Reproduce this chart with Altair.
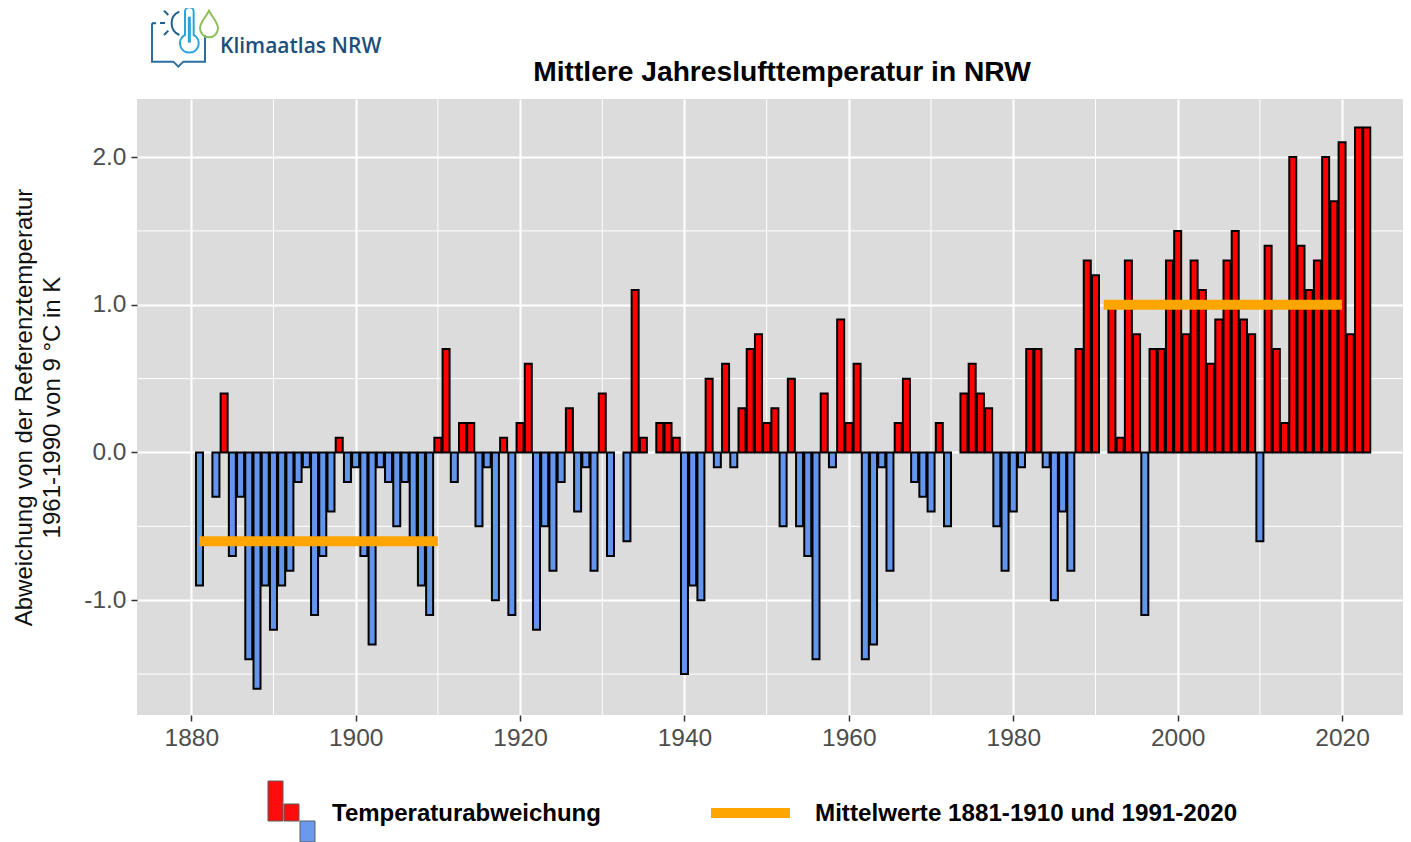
import altair as alt
import pandas as pd

first_year = 1881
anomalies = [
    -0.9, None, -0.3, 0.4, -0.7, -0.3, -1.4, -1.6, -0.9, -1.2,
    -0.9, -0.8, -0.2, -0.1, -1.1, -0.7, -0.4, 0.1, -0.2, -0.1,
    -0.7, -1.3, -0.1, -0.2, -0.5, -0.2, -0.6, -0.9, -1.1, 0.1,
    0.7, -0.2, 0.2, 0.2, -0.5, -0.1, -1.0, 0.1, -1.1, 0.2,
    0.6, -1.2, -0.5, -0.8, -0.2, 0.3, -0.4, -0.1, -0.8, 0.4,
    -0.7, None, -0.6, 1.1, 0.1, None, 0.2, 0.2, 0.1, -1.5,
    -0.9, -1.0, 0.5, -0.1, 0.6, -0.1, 0.3, 0.7, 0.8, 0.2,
    0.3, -0.5, 0.5, -0.5, -0.7, -1.4, 0.4, -0.1, 0.9, 0.2,
    0.6, -1.4, -1.3, -0.1, -0.8, 0.2, 0.5, -0.2, -0.3, -0.4,
    0.2, -0.5, None, 0.4, 0.6, 0.4, 0.3, -0.5, -0.8, -0.4,
    -0.1, 0.7, 0.7, -0.1, -1.0, -0.4, -0.8, 0.7, 1.3, 1.2,
    None, 1.0, 0.1, 1.3, 0.8, -1.1, 0.7, 0.7, 1.3, 1.5,
    0.8, 1.3, 1.1, 0.6, 0.9, 1.3, 1.5, 0.9, 0.8, -0.6,
    1.4, 0.7, 0.2, 2.0, 1.4, 1.1, 1.3, 2.0, 1.7, 2.1,
    0.8, 2.2, 2.2,
]
mean_starts = [1881, 1991]
mean_ends = [1910, 2020]
mean_values = [-0.6, 1.0]
x_major = [1880, 1900, 1920, 1940, 1960, 1980, 2000, 2020]
x_minor = [1890, 1910, 1930, 1950, 1970, 1990, 2010]
y_major = [-1.0, 0.0, 1.0, 2.0]
y_minor = [-1.5, -0.5, 0.5, 1.5]
X_DOMAIN = [1873.4, 2027.41]
Y_DOMAIN = [-1.777, 2.393]

FONT = "Liberation Sans"
RED, BLUE, ORANGE = "#FF0000", "#6495ED", "#FFA500"

bars_df = pd.DataFrame(
    [
        {"year": first_year + i, "value": v, "sign": "pos" if v > 0 else "neg"}
        for i, v in enumerate(anomalies)
        if v is not None
    ]
)
means_df = pd.DataFrame({"start": mean_starts, "end": mean_ends, "value": mean_values})
one = pd.DataFrame({"a": [0]})

x_scale = alt.Scale(domain=X_DOMAIN, nice=False, zero=False, padding=0)
y_scale = alt.Scale(domain=Y_DOMAIN, nice=False, zero=False, padding=0)
y_title = ["Abweichung von der Referenztemperatur", "1961-1990 von 9 °C in K"]

x_axis = alt.Axis(
    values=x_major,
    format="d",
    grid=True,
    gridColor="white",
    gridWidth=2,
    domain=False,
    tickColor="#333333",
    tickSize=6,
    tickWidth=1.5,
    labelColor="#4D4D4D",
    labelFont=FONT,
    labelFontSize=24.5,
    labelPadding=5,
    labelFlush=False,
    labelOverlap=False,
)
y_axis = alt.Axis(
    values=y_major,
    labelExpr="(datum.value < 0 ? '-' : '') + format(abs(datum.value), '.1f')",
    grid=True,
    gridColor="white",
    gridWidth=2,
    domain=False,
    tickColor="#333333",
    tickSize=6,
    tickWidth=1.5,
    labelColor="#4D4D4D",
    labelFont=FONT,
    labelFontSize=24.5,
    labelPadding=5,
    titleFont=FONT,
    titleFontSize=24,
    titleFontWeight="normal",
    titleColor="#111111",
    titleLineHeight=28,
    titleX=-101,
    titleY=308,
    titleAngle=270,
    titleAlign="center",
)


def X(field):
    return alt.X(field, scale=x_scale, title=None, axis=x_axis)


def Y(field):
    return alt.Y(field, scale=y_scale, title=y_title, axis=y_axis)


minor_x = (
    alt.Chart(pd.DataFrame({"year": x_minor}))
    .mark_rule(color="white", strokeWidth=1)
    .encode(x=X("year:Q"))
)
minor_y = (
    alt.Chart(pd.DataFrame({"v": y_minor}))
    .mark_rule(color="white", strokeWidth=1)
    .encode(y=Y("v:Q"))
)

bars = (
    alt.Chart(bars_df)
    .mark_bar(size=7, stroke="black", strokeWidth=2)
    .encode(
        x=X("year:Q"),
        y=Y("value:Q"),
        y2=alt.datum(0),
        color=alt.Color(
            "sign:N",
            scale=alt.Scale(domain=["pos", "neg"], range=[RED, BLUE]),
            legend=None,
        ),
    )
)

means = (
    alt.Chart(means_df)
    .mark_rule(color=ORANGE, strokeWidth=10)
    .encode(x=X("start:Q"), x2="end:Q", y=Y("value:Q"))
)


def px(x):
    return alt.value(x - 137)


def py(y):
    return alt.value(y - 99)


def page_text(text, x, y, size, color="black", weight="bold", font=FONT, align="left"):
    return (
        alt.Chart(one)
        .mark_text(
            text=text,
            font=font,
            fontSize=size,
            fontWeight=weight,
            color=color,
            align=align,
            baseline="middle",
        )
        .encode(x=px(x), y=py(y))
    )


def page_rect(x, x2, y, y2, fill):
    return (
        alt.Chart(one)
        .mark_rect(color=fill, stroke="#555555", strokeWidth=1, opacity=0.95)
        .encode(x=px(x), x2=px(x2), y=py(y), y2=py(y2))
    )


def logo_path(path, color, width=2.0):
    # Path written in zoomed logo units (1/3 px), anchored at page (140, 0).
    return (
        alt.Chart(one)
        .mark_point(shape=path, filled=False, size=4 / 9, color=color, strokeWidth=width, opacity=1)
        .encode(x=px(140), y=py(0))
    )


legend_layers = [
    page_rect(268, 283, 781, 821, RED),
    page_rect(284, 299, 804, 821, RED),
    page_rect(300, 315, 821, 842, BLUE),
    alt.Chart(one)
    .mark_rule(color=ORANGE, strokeWidth=10)
    .encode(x=px(711), x2=px(790), y=py(813)),
    page_text("Temperaturabweichung", 332, 814, 24),
    page_text("Mittelwerte 1881-1910 und 1991-2020", 815, 814, 24.2),
]

logo_layers = [
    logo_path("M36 70 V185 H100 L115 200 L130 185 H195 V105", "#2A6F9E"),
    logo_path("M36 70 H48 M60 69 H75", "#1F5F8B"),
    logo_path("M118 35 A38 38 0 0 0 118 105", "#1F5F8B"),
    logo_path("M72 32 L85 45 M72 105 L85 92", "#1F5F8B"),
    logo_path(
        "M135 35 A13 13 0 0 1 161 35 V105 A28 28 0 1 1 135 105 Z",
        "#2AA3DC",
    ),
    logo_path("M148 50 V128", "#2AA3DC", 3),
    logo_path("M207 32 C195 55 180 68 180 85 A27 27 0 0 0 234 85 C234 68 219 55 207 32 Z", "#8DBF5A"),
    page_text("Klimaatlas NRW", 220, 47, 21, color="#1D4F7C", weight=600, font="Open Sans"),
]

title_layer = page_text(
    "Mittlere Jahreslufttemperatur in NRW", 782, 73, 28.2, align="center"
)

chart = (
    alt.layer(minor_x, minor_y, bars, means, title_layer, *legend_layers, *logo_layers)
    .properties(
        width=1266,
        height=616,
        padding={"left": 129, "top": 91, "right": 0, "bottom": 127},
        autosize=alt.AutoSizeParams(type="none"),
    )
    .configure_view(fill="#DCDCDC", stroke=None)
    .resolve_scale(x="shared", y="shared")
)

chart.save("out.html", embed_options={"renderer": "svg", "actions": False})
